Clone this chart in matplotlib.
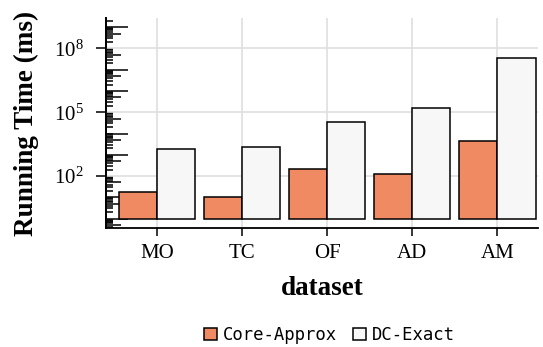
import numpy as np
import matplotlib
matplotlib.use("Agg")
import matplotlib.pyplot as plt
from matplotlib.ticker import FixedLocator, NullFormatter, LogFormatterSciNotation

# data (running time in ms, log scale)
datasets = ["MO", "TC", "OF", "AD", "AM"]
core_approx = [18, 10.7, 213, 128, 4270]
dc_exact = [1870, 2390, 35500, 162000, 3.39e7]

plt.rcParams['font.family'] = ['Liberation Serif', 'DejaVu Serif']
plt.rcParams['mathtext.fontset'] = 'custom'
plt.rcParams['mathtext.rm'] = 'Liberation Serif'
plt.rcParams['mathtext.it'] = 'Liberation Serif:italic'
plt.rcParams['mathtext.bf'] = 'Liberation Serif:bold'

fig = plt.figure(figsize=(5.43, 3.47), dpi=100)
ax = fig.add_axes([0.196, 0.343, 0.795, 0.604])

x = np.arange(len(datasets))
w = 0.45
ax.bar(x - w/2, np.array(core_approx) - 1, w, bottom=1, color='#ef8a62',
       edgecolor='black', linewidth=1.1, label='Core-Approx', zorder=3)
ax.bar(x + w/2, np.array(dc_exact) - 1, w, bottom=1, color='#f7f7f7',
       edgecolor='black', linewidth=1.1, label='DC-Exact', zorder=3)

ax.set_yscale('log')
ax.set_ylim(0.363, 2.57e9)
ax.set_xlim(-0.594, 4.48)

# labelled decades cross the spine, every decade gets a long inner tick
ax.yaxis.set_major_locator(FixedLocator([1e2, 1e5, 1e8]))
ax.yaxis.set_major_formatter(LogFormatterSciNotation())
ax.yaxis.set_minor_locator(FixedLocator([10.0**k for k in range(-1, 10)]))
ax.yaxis.set_minor_formatter(NullFormatter())
ax.tick_params(axis='y', which='major', direction='out', length=7.2, width=1.1,
               pad=9, labelsize=15)
ax.tick_params(axis='y', which='minor', direction='in', length=15.5, width=1.1)

# second set of ticks for 2..9 sub-decades
sec = ax.secondary_yaxis('left')
sec.yaxis.set_major_locator(FixedLocator([5 * 10.0**k for k in range(-1, 10)]))
sec.yaxis.set_major_formatter(NullFormatter())
subs = [s * 10.0**k for k in range(-1, 10) for s in (2, 3, 4, 6, 7, 8, 9)]
sec.yaxis.set_minor_locator(FixedLocator(subs))
sec.yaxis.set_minor_formatter(NullFormatter())
sec.tick_params(which='major', direction='in', length=11, width=1.1)
sec.tick_params(which='minor', direction='in', length=5, width=1.1)
sec.spines['left'].set_linewidth(1.3)

ax.set_xticks(x)
ax.set_xticklabels(datasets)
ax.tick_params(axis='x', direction='out', length=5.8, width=1.1, pad=6,
               labelsize=15)

ax.grid(True, which='major', color='#dddddd', linewidth=1.1, zorder=0)
ax.set_axisbelow(True)

for s in ['top', 'right']:
    ax.spines[s].set_visible(False)
ax.spines['left'].set_linewidth(1.3)
ax.spines['bottom'].set_linewidth(1.3)

ax.set_ylabel('Running Time (ms)', fontsize=19.5, fontweight='bold', labelpad=11)
ax.set_xlabel('dataset', fontsize=19.5, fontweight='bold', labelpad=9)

fig.legend(loc='center', bbox_to_anchor=(0.607, 0.035), ncol=2, frameon=False,
           prop={'family': 'DejaVu Sans Mono', 'size': 12.4},
           handlelength=0.75, handleheight=0.75, handletextpad=0.35,
           columnspacing=0.9, borderpad=0.1)

fig.savefig('out.png', dpi=100)
